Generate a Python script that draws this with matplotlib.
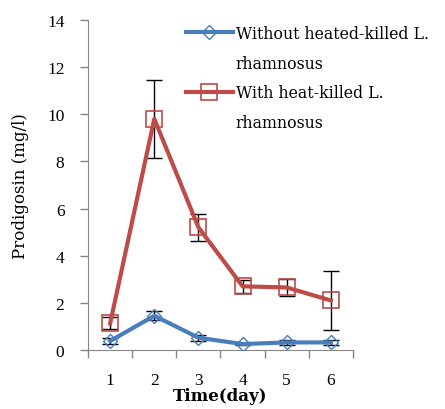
import matplotlib.pyplot as plt
from matplotlib.lines import Line2D
from matplotlib.ticker import FixedLocator

days = [1, 2, 3, 4, 5, 6]
day_labels = ["1", "2", "3", "4", "5", "6"]

without_vals = [0.38, 1.45, 0.52, 0.25, 0.32, 0.32]
without_err = [0.12, 0.2, 0.12, 0.05, 0.1, 0.1]

with_vals = [1.13, 9.8, 5.2, 2.7, 2.65, 2.1]
with_err = [0.25, 1.65, 0.58, 0.28, 0.35, 1.27]

blue = "#4a7ebb"
red = "#be4b48"

plt.rcParams['font.family'] = ['Liberation Serif', 'DejaVu Serif']
wide = ['DejaVu Serif']

fig = plt.figure(figsize=(4.45, 4.10), dpi=100)
ax = fig.add_axes([0.198, 0.144, 0.595, 0.805])

ax.errorbar(days, without_vals, yerr=without_err, fmt='none', ecolor='black',
            elinewidth=1, capsize=6, capthick=1, zorder=2)
ax.errorbar(days, with_vals, yerr=with_err, fmt='none', ecolor='black',
            elinewidth=1, capsize=6, capthick=1, zorder=2)

l1, = ax.plot(days, without_vals, color=blue, lw=3, marker='D', markersize=7,
              markerfacecolor='none', markeredgecolor=blue, markeredgewidth=1, zorder=3)
l2, = ax.plot(days, with_vals, color=red, lw=3, marker='s', markersize=11.5,
              markerfacecolor='none', markeredgecolor=red, markeredgewidth=1.2, zorder=3)

ax.set_xlim(0.5, 6.5)
ax.set_ylim(0, 14)
ax.set_yticks(range(0, 15, 2))
ax.set_xticks(days)
ax.set_xticklabels(day_labels)
ax.xaxis.set_minor_locator(FixedLocator([0.5 + i for i in range(7)]))
ax.tick_params(axis='x', which='major', length=0, pad=16, labelsize=12.5)
ax.tick_params(axis='x', which='minor', length=6, width=1, color='#868686', direction='out')
ax.tick_params(axis='y', length=6, width=1, color='#868686', direction='out', labelsize=12.5, pad=11)

for s in ['top', 'right']:
    ax.spines[s].set_visible(False)
for s in ['left', 'bottom']:
    ax.spines[s].set_color('#868686')

ax.set_ylabel("Prodigosin (mg/l)", fontsize=12, family=wide, labelpad=13)
ax.set_xlabel("Time(day)", fontsize=12, family=wide, fontweight='bold', labelpad=-1)

# legend: handle beside the first line of each label, as in the source
blank = Line2D([], [], linestyle='none')
small_blue = Line2D([], [], color=blue, lw=3, marker='D', markersize=7,
                    markerfacecolor='none', markeredgecolor=blue, markeredgewidth=1)
small_red = Line2D([], [], color=red, lw=3, marker='s', markersize=11,
                   markerfacecolor='none', markeredgecolor=red, markeredgewidth=1.2)
leg = ax.legend([small_blue, blank, small_red, blank],
                ["Without heated-killed L.", "rhamnosus", "With heat-killed L.", "rhamnosus"],
                loc='upper left', bbox_to_anchor=(0.345, 1.004), frameon=False,
                prop={'family': wide, 'size': 11.3}, handlelength=3.0,
                handletextpad=0.2, labelspacing=0.81, borderaxespad=0)

fig.savefig("out.png", dpi=100)
